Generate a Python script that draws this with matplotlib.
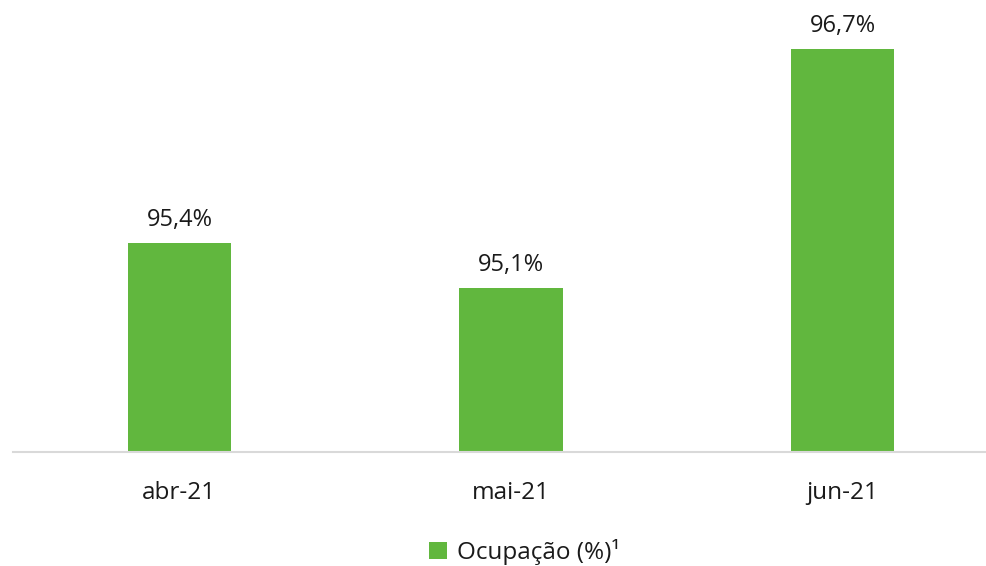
import matplotlib
matplotlib.use("Agg")
from matplotlib import pyplot as plt

months = ["abr-21", "mai-21", "jun-21"]
occupancy = [95.4, 95.1, 96.7]
series_name = "Ocupação (%)¹"

green = "#61B73E"
plt.rcParams["font.family"] = ["Open Sans", "DejaVu Sans"]

W, H = 987, 566
fig = plt.figure(figsize=(W / 100, H / 100), dpi=100)
# axes box in pixels: left 13, right 987, bottom line at y=452, top at y=0
ax = fig.add_axes([13 / W, (H - 452) / H, (987 - 13) / W, 452 / H])

x = list(range(len(months)))
bars = ax.bar(x, occupancy, width=0.313, color=green, zorder=2)
labels = [("%.1f%%" % v).replace(".", ",") for v in occupancy]
ax.bar_label(bars, labels=labels, padding=8, fontsize=17, color="#1a1a1a")

ax.set_xlim(-0.502, 2.436)
ax.set_ylim(94.0, 97.03)

for s in ["top", "right", "left"]:
    ax.spines[s].set_visible(False)
ax.spines["bottom"].set_color("#D9D9D9")
ax.spines["bottom"].set_linewidth(1.5)
ax.set_yticks([])
ax.set_xticks(x)
ax.set_xticklabels(months, fontsize=17.5, color="#1a1a1a")
ax.tick_params(axis="x", length=0, pad=21)

fig.legend([bars], [series_name], loc="center", bbox_to_anchor=(524 / W, 1 - 552 / H),
           frameon=False, fontsize=17.5, handlelength=0.75, handleheight=0.75,
           handletextpad=0.4, labelcolor="#1a1a1a")

plt.savefig("out.png", dpi=100)
